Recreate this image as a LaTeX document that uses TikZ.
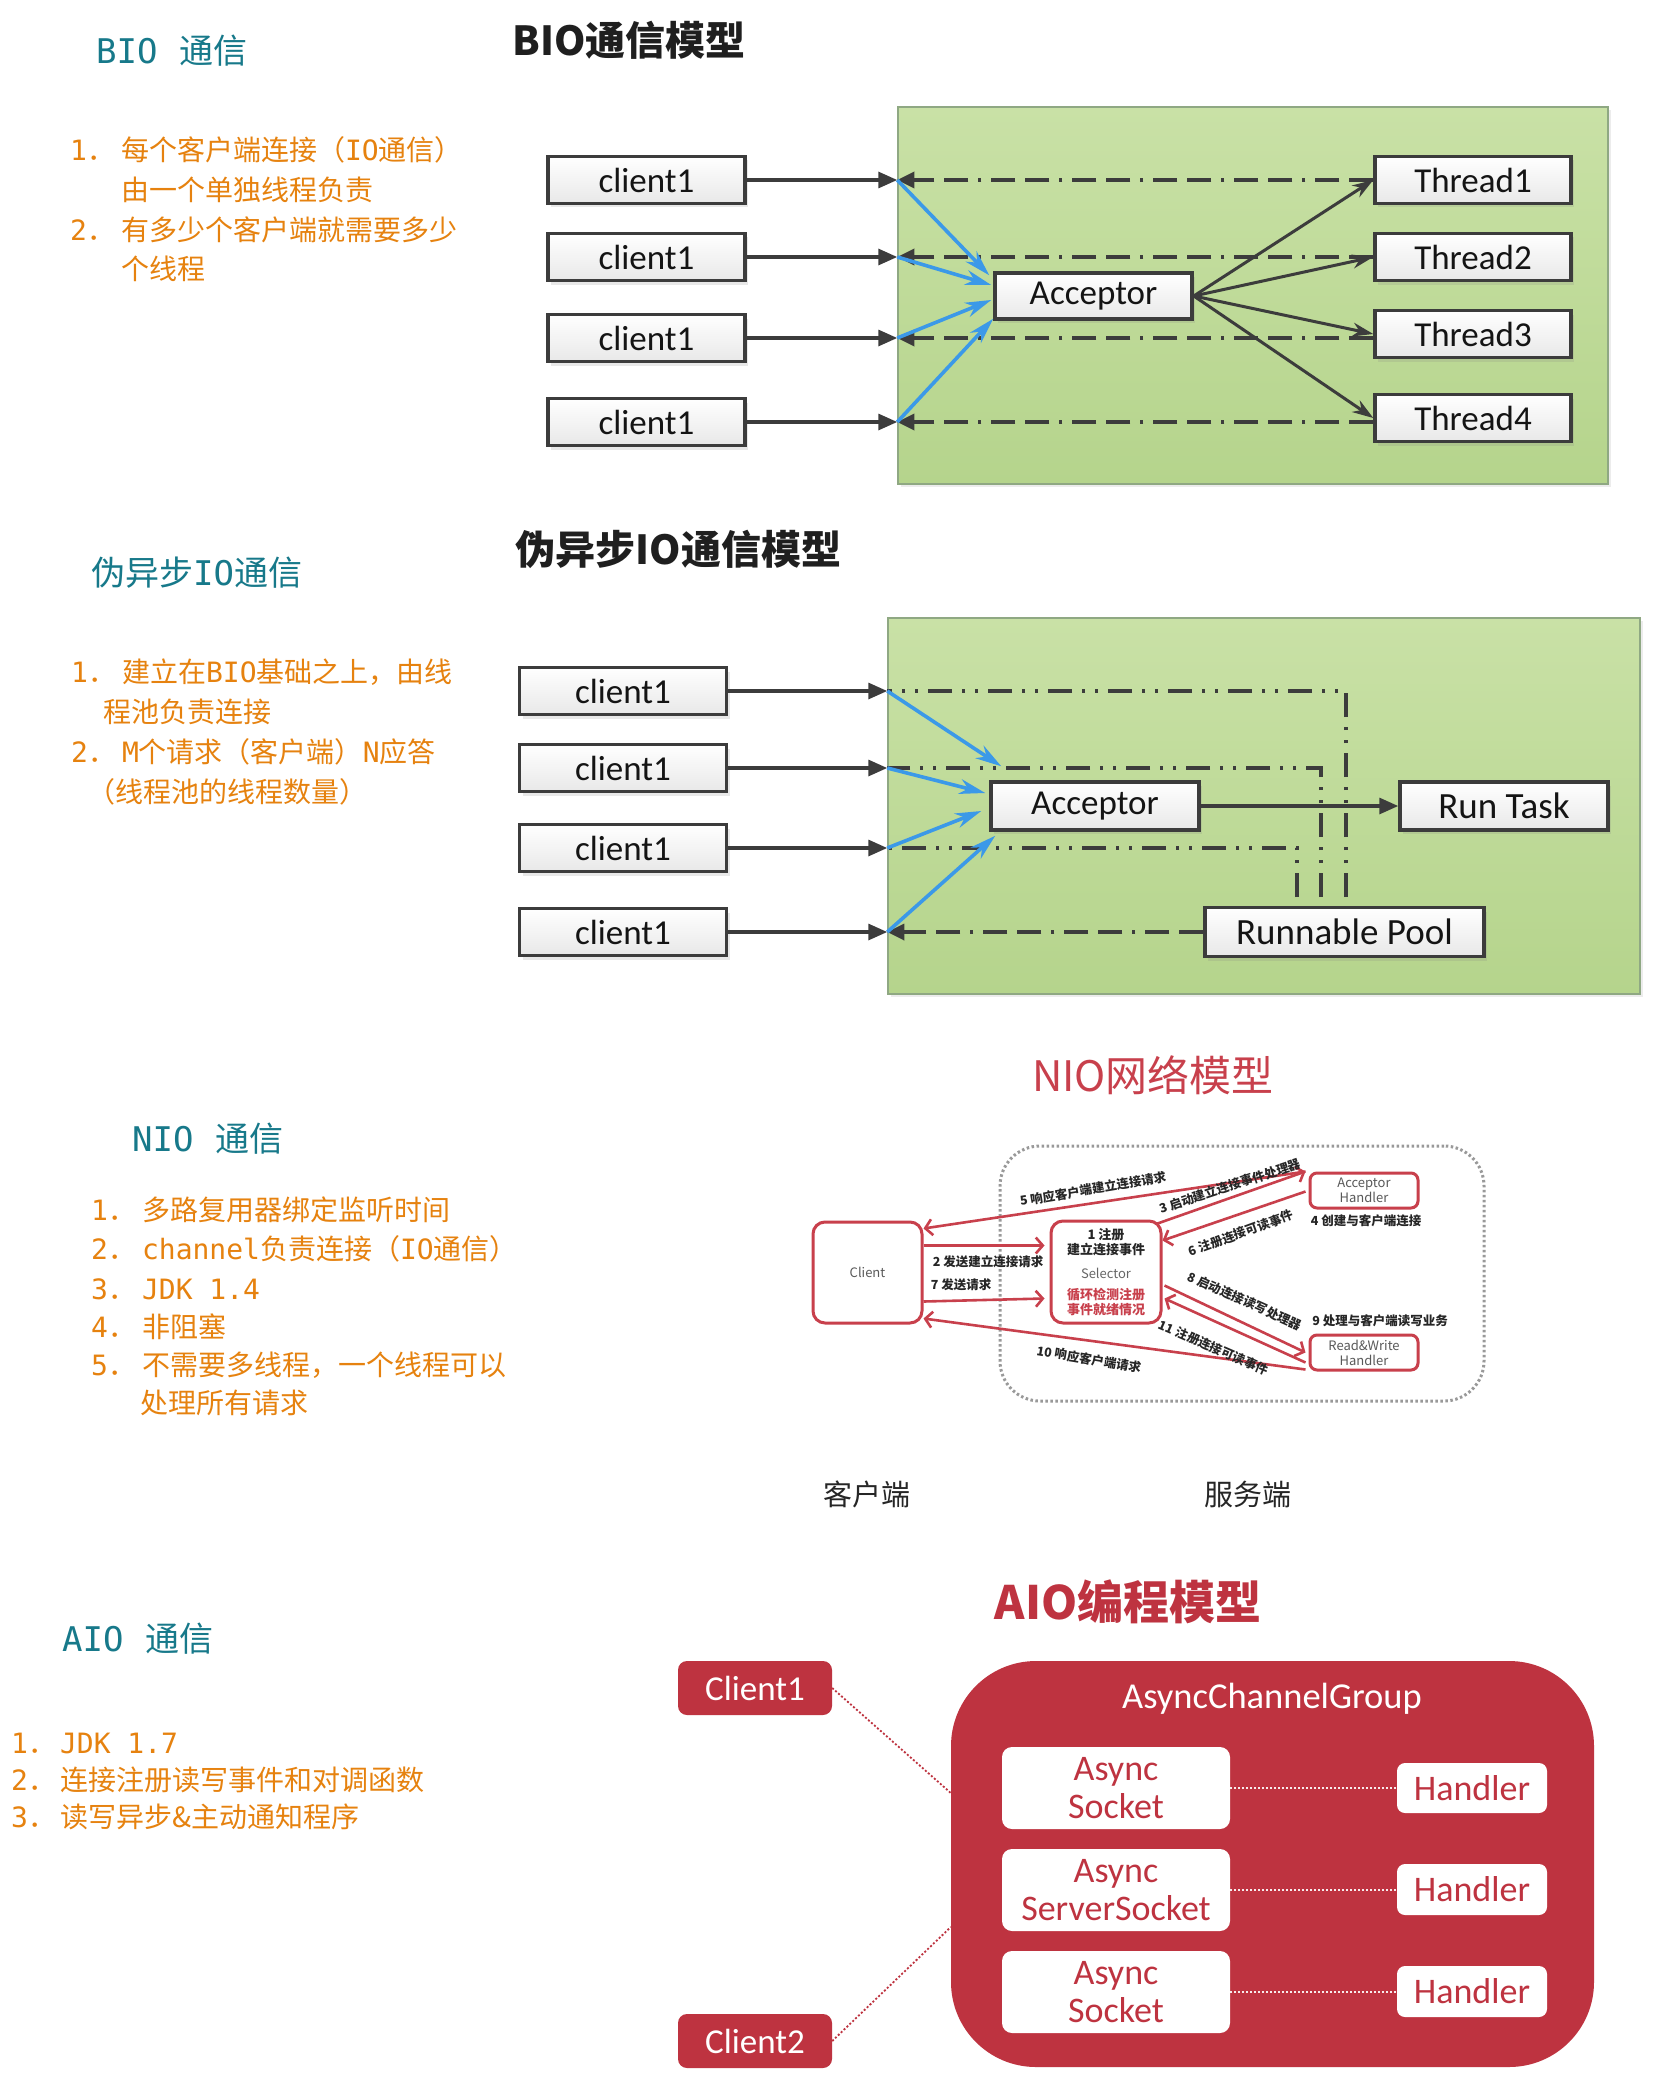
\documentclass[tikz,border=0pt]{standalone}
\usepackage{fontspec}
\setmainfont{Carlito}
\newfontfamily\cjk{Noto Sans CJK SC}
\newfontfamily\mono{DejaVu Sans Mono}
\usetikzlibrary{arrows.meta,shadows,calc}
\definecolor{teal1}{HTML}{17798A}
\definecolor{org}{HTML}{E6820F}
\definecolor{dk}{HTML}{3C3C3C}
\definecolor{gtop}{HTML}{C9E1A6}
\definecolor{gbot}{HTML}{B5D48C}
\definecolor{gedge}{HTML}{8FA883}
\definecolor{blu}{HTML}{3B99E8}
\definecolor{nred}{HTML}{C8404C}
\definecolor{ared}{HTML}{BE3340}
\newcommand{\m}[1]{{\mono #1}}
\newcommand{\fs}[2]{\fontsize{#1}{#2}\selectfont}
\begin{document}
\begin{tikzpicture}[x=1pt,y=-1pt,
  ttl/.style={anchor=west,inner sep=0,text=teal1,font=\cjk\fs{34}{40}},
  itm/.style={anchor=west,inner sep=0,text=org,font=\cjk\fs{28}{34}},
  hd/.style={inner sep=0,font=\cjk\bfseries\fs{40}{46},text=black!88},
  wbox/.style={draw=dk,line width=3.5pt,top color=white,bottom color=black!9,inner sep=0,text=black!92,font=\fs{35}{40},drop shadow={shadow xshift=3pt,shadow yshift=-4pt,opacity=0.18}},
  gbox/.style={draw=gedge,line width=1.5pt,top color=gtop,bottom color=gbot,inner sep=0,drop shadow={shadow xshift=3pt,shadow yshift=-3pt,opacity=0.15}},
  carrow/.style={draw=dk,line width=3.2pt,-{Triangle[length=19pt,width=16pt]}},
  dda/.style={draw=dk,line width=3.4pt,dash pattern=on 24pt off 10pt on 24pt off 10pt on 3pt off 10pt,-{Triangle[length=17pt,width=16pt]}},
  ddd/.style={draw=dk,line width=3.4pt,dash pattern=on 24pt off 10pt on 3pt off 10pt on 3pt off 10pt},
  barrow/.style={draw=blu,line width=3.6pt,-{Stealth[length=26pt,width=15pt]}},
  tarrow/.style={draw=dk,line width=3pt,-{Stealth[length=21pt,width=14pt]}},
  nbox/.style={draw=nred,line width=3pt,rounded corners=12pt,fill=white,inner sep=0,text=black!65,font=\cjk\fs{13}{15},align=center},
  narrow/.style={draw=nred,line width=2.6pt,-{Straight Barb[length=7pt,width=16pt]}},
  nlab/.style={inner sep=0,font=\cjk\bfseries\fs{12.5}{15},text=black!85},
  rbox/.style={fill=ared,rounded corners=9pt,text=white,font=\fs{35}{40},inner sep=0},
  abox/.style={fill=white,rounded corners=10pt,text=ared,font=\fs{36}{38},align=center,inner sep=0},
  rdot/.style={draw=ared,line width=1.8pt,dash pattern=on 2pt off 2pt},
  wdot/.style={draw=white!90!ared,line width=2pt,dash pattern=on 2pt off 2pt}
]
\useasboundingbox (0,0) rectangle (1664,2100);
\fill[white] (0,0) rectangle (1664,2100);

%% ---------------- BIO ----------------
\node[ttl] (tb) at (96,51) {\m{BIO}\hspace{22pt}通信};
\node[itm] (b1) at (70,150) {\m{1}．\hspace{6pt}每个客户端连接（\m{IO}通信）};
\node[itm] (b1b) at (121,190) {由一个单独线程负责};
\node[itm] (b2) at (70,230) {\m{2}．\hspace{6pt}有多少个客户端就需要多少};
\node[itm] (b2b) at (121,269) {个线程};
\node[hd] (hb) at (629,40) {BIO通信模型};

\node[gbox,minimum width=710pt,minimum height=377pt] (g1) at (1253,295.5) {};
\node[wbox,minimum width=197pt,minimum height=47pt] (c1) at (646.5,180) {client1};
\node[wbox,minimum width=197pt,minimum height=47pt] (c2) at (646.5,257) {client1};
\node[wbox,minimum width=197pt,minimum height=47pt] (c3) at (646.5,338) {client1};
\node[wbox,minimum width=197pt,minimum height=47pt] (c4) at (646.5,422) {client1};
\node[wbox,minimum width=196pt,minimum height=47pt] (t1) at (1473,180) {Thread1};
\node[wbox,minimum width=196pt,minimum height=47pt] (t2) at (1473,257) {Thread2};
\node[wbox,minimum width=196pt,minimum height=47pt] (t3) at (1473,334) {Thread3};
\node[wbox,minimum width=196pt,minimum height=47pt] (t4) at (1473,418) {Thread4};
\node[wbox,minimum width=197pt,minimum height=46pt] (a1) at (1093.5,296) {Acceptor};

\foreach \c/\t in {c1/t1,c2/t2,c3/t3,c4/t4}{
  \draw[carrow] (\c.east) -- (g1.west |- \c);
  \draw[dda] (\t.west |- \c) -- (g1.west |- \c);
  \draw[tarrow] (a1.east) -- (\t.west);
}
\draw[barrow] (g1.west |- c1) -- ($(a1.north west)+(-4,4)$);
\draw[barrow] (g1.west |- c2) -- ($(a1.west)+(-2,-11)$);
\draw[barrow] (g1.west |- c3) -- ($(a1.west)+(-2,4)$);
\draw[barrow] (g1.west |- c4) -- ($(a1.south west)+(0,-2)$);

%% ---------------- pseudo async ----------------
\node[ttl] (tp) at (91,573) {伪异步\m{IO}通信};
\node[itm] (p1) at (71,672) {\m{1}．\hspace{6pt}建立在\m{BIO}基础之上，由线};
\node[itm] (p1b) at (103,712) {程池负责连接};
\node[itm] (p2) at (71,752) {\m{2}．\hspace{6pt}\m{M}个请求（客户端）\m{N}应答};
\node[itm] (p2b) at (87,792) {（线程池的线程数量）};
\node[hd] (hp) at (678.5,549) {伪异步IO通信模型};

\node[gbox,minimum width=752pt,minimum height=376pt] (g2) at (1264,806) {};
\node[wbox,minimum width=207pt,minimum height=47pt] (c5) at (623,691) {client1};
\node[wbox,minimum width=207pt,minimum height=47pt] (c6) at (623,768) {client1};
\node[wbox,minimum width=207pt,minimum height=47pt] (c7) at (623,848) {client1};
\node[wbox,minimum width=207pt,minimum height=47pt] (c8) at (623,932) {client1};
\node[wbox,minimum width=208pt,minimum height=48pt] (a2) at (1095,806) {Acceptor};
\node[wbox,minimum width=208pt,minimum height=48pt,font=\fs{37}{40}] (rt) at (1504,806) {Run Task};
\node[wbox,minimum width=279pt,minimum height=49pt,font=\fs{37}{40}] (pool) at (1344.5,932) {Runnable Pool};
\coordinate (d1) at (1346,897);
\coordinate (d2) at (1321,897);
\coordinate (d3) at (1297,897);

\foreach \c in {c5,c6,c7,c8}{\draw[carrow] (\c.east) -- (g2.west |- \c);}
\draw[ddd] (d1) |- (g2.west |- c5);
\draw[ddd] (d2) |- (g2.west |- c6);
\draw[ddd] (d3) |- (g2.west |- c7);
\draw[dda] (pool.west) -- (g2.west |- c8);
\draw[carrow] (a2.east) -- (rt.west);
\draw[barrow] (g2.west |- c5) -- ($(a2.north west)+(12,-14)$);
\draw[barrow] (g2.west |- c6) -- ($(a2.west)+(-4,-13)$);
\draw[barrow] (g2.west |- c7) -- ($(a2.west)+(-8,5)$);
\draw[barrow] (g2.west |- c8) -- ($(a2.south west)+(6,4)$);

%% ---------------- NIO ----------------
\node[ttl] (tn) at (132,1139) {\m{NIO}\hspace{22pt}通信};
\node[itm] (n1) at (91,1210) {\m{1}．\hspace{6pt}多路复用器绑定监听时间};
\node[itm] (n2) at (91,1249) {\m{2}．\hspace{6pt}\m{channel}负责连接（\m{IO}通信）};
\node[itm] (n3) at (91,1289) {\m{3}．\hspace{6pt}\m{JDK 1.4}};
\node[itm] (n4) at (91,1327) {\m{4}．\hspace{6pt}非阻塞};
\node[itm] (n5) at (91,1365) {\m{5}．\hspace{6pt}不需要多线程，一个线程可以};
\node[itm] (n5b) at (140,1403) {处理所有请求};
\node[inner sep=0,font=\cjk\fs{42}{46},text=nred] (hn) at (1153,1075) {NIO网络模型};

\node[draw=black!40,line width=3pt,dash pattern=on 2.5pt off 2.5pt,rounded corners=40pt,minimum width=484pt,minimum height=255pt,inner sep=0] (srv) at (1242,1273.5) {};
\node[nbox,minimum width=109pt,minimum height=101pt] (nc) at (867.5,1272.5) {Client};
\node[nbox,minimum width=110pt,minimum height=102pt,text=black!85] (ns) at (1106,1272) {{\bfseries 1 注册}\\{\bfseries 建立连接事件}\\[9pt]{\color{black!60}Selector}\\[6pt]{\color{nred}\bfseries 循环检测注册}\\{\color{nred}\bfseries 事件就绪情况}};
\node[nbox,minimum width=108pt,minimum height=35pt,rounded corners=7pt] (na) at (1364,1190.5) {Acceptor\\Handler};
\node[nbox,minimum width=108pt,minimum height=35pt,rounded corners=7pt] (nr) at (1364,1352.5) {Read\&Write\\Handler};

\draw[narrow] ($(na.north west)+(-3,0)$) -- ($(nc.north east)+(0,8)$);
\draw[narrow] ($(ns.north east)+(-5,4)$) -- ($(na.north west)+(-3,0)$);
\draw[narrow] ($(na.west)+(-3,1)$) -- ($(ns.north east)+(0,21)$);
\draw[narrow] ($(nc.north east)+(0,25)$) -- ($(ns.north west)+(-5,26)$);
\draw[narrow] ($(nc.south east)+(0,-23)$) -- ($(ns.north west)+(-5,79)$);
\draw[narrow] ($(nr.south west)+(-3,-2)$) -- ($(nc.south east)+(0,-6)$);
\draw[narrow] ($(ns.north east)+(2,66)$) -- ($(nr.west)+(-3,0)$);
\draw[narrow] ($(nr.west)+(-3,10)$) -- ($(ns.north east)+(2,79)$);

\node[nlab,rotate=9.5] (l5) at (1093,1189) {5 响应客户端建立连接请求};
\node[nlab,rotate=18.3] (l3) at (1230,1186) {3 启动建立连接事件处理器};
\node[nlab,rotate=20] (l6) at (1241,1233) {6 注册连接可读事件};
\node[nlab] (l2) at (988,1262) {2 发送建立连接请求};
\node[nlab] (l7) at (961,1285) {7 发送请求};
\node[nlab,rotate=-9.5] (l10) at (1089,1359) {10 响应客户端请求};
\node[nlab,rotate=-24] (l8) at (1245,1301) {8 启动连接读写处理器};
\node[nlab,rotate=-23.5] (l11) at (1214,1348) {11 注册连接可读事件};
\node[nlab] (l4) at (1366,1221) {4 创建与客户端连接};
\node[nlab] (l9) at (1380,1321) {9 处理与客户端读写业务};

\node[inner sep=0,font=\cjk\fs{29}{32},text=black!85] (kc) at (867,1494) {客户端};
\node[inner sep=0,font=\cjk\fs{29}{32},text=black!85] (ks) at (1248,1494) {服务端};

%% ---------------- AIO ----------------
\node[ttl] (ta) at (62,1639) {\m{AIO}\hspace{22pt}通信};
\node[itm] (q1) at (11,1743) {\m{1}．\hspace{4pt}\m{JDK 1.7}};
\node[itm] (q2) at (11,1780) {\m{2}．\hspace{4pt}连接注册读写事件和对调函数};
\node[itm] (q3) at (11,1817) {\m{3}．\hspace{4pt}读写异步\&主动通知程序};
\node[inner sep=0,font=\cjk\bfseries\fs{46}{50},text=ared] (ha) at (1128,1602) {AIO编程模型};

\node[fill=ared,rounded corners=85pt,minimum width=643pt,minimum height=406pt,inner sep=0] (grp) at (1272.5,1864) {};
\node[inner sep=0,text=white,font=\fs{36.5}{40}] (agt) at (1272,1699) {AsyncChannelGroup};
\node[rbox,minimum width=154pt,minimum height=54pt] (ac1) at (755,1688) {Client1};
\node[rbox,minimum width=154pt,minimum height=54pt] (ac2) at (755,2041) {Client2};
\node[abox,minimum width=228pt,minimum height=82pt] (s1) at (1116,1788) {Async\\Socket};
\node[abox,minimum width=228pt,minimum height=82pt] (s2) at (1116,1890) {Async\\ServerSocket};
\node[abox,minimum width=228pt,minimum height=82pt] (s3) at (1116,1992) {Async\\Socket};
\node[abox,minimum width=150pt,minimum height=50pt,rounded corners=8pt] (h1) at (1472,1788) {Handler};
\node[abox,minimum width=150pt,minimum height=51pt,rounded corners=8pt] (h2) at (1472,1889.5) {Handler};
\node[abox,minimum width=150pt,minimum height=51pt,rounded corners=8pt] (h3) at (1472,1991.5) {Handler};
\draw[wdot] (s1.east) -- (h1.west);
\draw[wdot] (s2.east) -- (h2.west |- s2);
\draw[wdot] (s3.east) -- (h3.west |- s3);
\draw[rdot] (ac1.east) -- ($(grp.west)+(0,-71)$);
\draw[rdot] (ac2.east) -- ($(grp.west)+(0,63)$);
\end{tikzpicture}
\end{document}
